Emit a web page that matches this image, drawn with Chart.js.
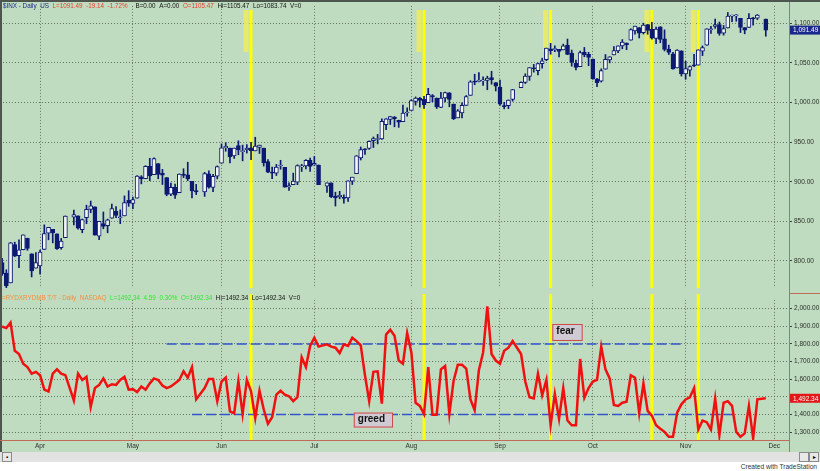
<!DOCTYPE html>
<html>
<head>
<meta charset="utf-8">
<script src="https://cdn.jsdelivr.net/npm/chart.js@4.4.0/dist/chart.umd.min.js"></script>
<style>
  body { margin: 0; background: #fff; }
  #wrap { position: relative; width: 820px; height: 471px; overflow: hidden; font-family: Arial, sans-serif; }
  #panel { position: absolute; left: 0; top: 0; width: 820px; height: 452px; background: #c0dcc0; }
  canvas { position: absolute; left: 0; }
  .hdr { position: absolute; font-size: 6.3px; line-height: 8px; white-space: nowrap; }
  .hdr span { margin-right: 3.6px; }
  .line { position: absolute; background: #c46a58; }
  .btn { position: absolute; top: 452px; width: 8px; height: 8px; border: 1px solid #8a8a8a; background: #e8e8e8;
         font-size: 6px; line-height: 8px; text-align: center; color: #000; }
</style>
</head>
<body>
<div id="wrap">
  <div id="panel"></div>
  <div style="position:absolute;left:0;top:452px;width:820px;height:10px;background:#e2e2e2"></div>

  <canvas id="priceChart" width="820" height="294" style="top:0"></canvas>
  <canvas id="ratioChart" width="820" height="158" style="top:294px"></canvas>

  <!-- frame -->
  <div style="position:absolute;left:0;top:0;width:820px;height:2px;background:#4d564d"></div>
  <div style="position:absolute;left:0;top:0;width:2px;height:452px;background:#4d564d"></div>
  <div class="line" style="left:789px;top:2px;width:1px;height:450px"></div>
  <div class="line" style="left:789px;top:293px;width:31px;height:1px"></div>
  <div class="line" style="left:0;top:440px;width:790px;height:1px"></div>

  <!-- top header -->
  <div class="hdr" style="left:3px;top:2px">
    <span style="color:#1c2c8c">$INX - Daily</span><span style="color:#1c2c8c">US</span><span
      style="color:#e8402a">L=1091.49</span><span style="color:#e8402a">-19.14</span><span
      style="color:#e8402a;margin-right:8px">-1.72%</span><span style="color:#111">B=0.00</span><span
      style="color:#111">A=0.00</span><span style="color:#e8402a">O=1105.47</span><span
      style="color:#111">Hi=1105.47</span><span style="color:#111">Lo=1083.74</span><span style="color:#111">V=0</span>
  </div>

  <!-- bottom header -->
  <div class="hdr" style="left:2px;top:294px">
    <span style="color:#f09040">=RYDXRYDMB T/T - Daily</span><span style="color:#f09040">NASDAQ</span><span
      style="color:#2ee82e">L=1492.34</span><span style="color:#2ee82e">4.59</span><span
      style="color:#2ee82e">0.30%</span><span style="color:#2ee82e">O=1492.34</span><span
      style="color:#111">Hi=1492.34</span><span style="color:#111">Lo=1492.34</span><span style="color:#111">V=0</span>
  </div>

  <!-- scroll strip -->
  <div class="btn" style="left:2px">&#9642;</div>
  <div class="btn" style="left:799px"></div>
  <div class="btn" style="left:809px">&#9656;</div>
  <div class="hdr" style="right:3px;top:463px;color:#333;font-size:6.6px">Created with TradeStation</div>
</div>

<script>
// $INX daily candles, one value per trading day from 2009-03-19 to 2009-11-27
const opens = [
  797.9, 784.6, 772.3, 820.6, 806.8, 814.1, 828.7, 809.1, 790.9, 793.6,
  814.5, 835.1, 839.8, 834.1, 816.8, 829.3, 855.3, 856.9, 839.4, 854.5,
  865.2, 868.3, 831.3, 847.3, 844.6, 853.9, 862.8, 854.5, 856.9, 876.6,
  872.7, 879.2, 906.1, 903.8, 919.6, 909.0, 922.9, 910.5, 905.4, 884.2,
  892.8, 886.1, 909.7, 908.6, 900.4, 888.7, 887.0, 909.9, 892.9, 907.0,
  923.3, 942.9, 942.5, 932.5, 945.7, 938.1, 940.4, 942.7, 939.0, 943.4,
  942.5, 925.6, 911.9, 910.9, 919.9, 918.1, 893.5, 896.3, 899.5, 918.8,
  919.9, 927.2, 920.8, 921.2, 894.3, 898.6, 881.9, 881.3, 880.0, 879.6,
  900.8, 910.2, 930.2, 940.6, 942.1, 951.9, 953.4, 954.1, 972.2, 978.6,
  981.5, 977.7, 976.0, 986.8, 990.2, 1001.4, 1005.4, 1004.1, 999.8, 1008.9,
  1005.8, 994.0, 1005.9, 1012.2, 998.2, 980.6, 986.9, 996.4, 1009.1, 1026.6,
  1026.6, 1027.4, 1027.8, 1031.6, 1025.2, 1019.5, 996.1, 996.1, 1003.8, 1018.7,
  1025.4, 1033.0, 1043.9, 1040.2, 1049.0, 1054.0, 1067.9, 1066.6, 1067.1, 1066.4,
  1072.7, 1062.6, 1049.5, 1045.4, 1063.7, 1061.0, 1054.9, 1029.7, 1026.9, 1042.0,
  1053.7, 1060.0, 1065.3, 1071.6, 1075.0, 1078.7, 1090.4, 1094.7, 1088.2, 1098.6,
  1092.4, 1081.0, 1095.6, 1080.4, 1067.5, 1061.5, 1043.7, 1065.4, 1036.2, 1040.9,
  1047.3, 1047.3, 1065.0, 1072.3, 1091.9, 1096.0, 1098.3, 1087.6, 1094.1, 1109.2,
  1109.4, 1106.4, 1094.7, 1094.9, 1105.8, 1106.5, 1105.47
];
const highs = [
  803.2, 788.9, 823.4, 823.7, 826.8, 832.9, 828.7, 809.1, 810.5, 813.6,
  845.6, 842.5, 839.8, 834.1, 828.4, 856.9, 864.3, 856.9, 852.9, 870.4,
  875.6, 868.3, 850.1, 861.8, 852.9, 871.8, 868.8, 864.5, 882.1, 888.7,
  880.5, 907.9, 907.7, 920.3, 929.6, 930.2, 922.9, 915.6, 905.4, 898.4,
  896.9, 910.0, 916.4, 924.6, 900.4, 896.7, 911.8, 913.8, 909.5, 920.0,
  947.8, 949.4, 942.5, 942.5, 951.7, 946.3, 946.9, 949.8, 956.2, 946.3,
  942.5, 928.0, 918.4, 921.9, 927.1, 918.1, 898.7, 910.9, 921.4, 922.0,
  927.9, 930.0, 931.9, 921.2, 898.7, 898.6, 886.8, 887.9, 883.6, 901.1,
  905.8, 933.0, 943.9, 941.9, 951.6, 956.5, 959.8, 979.4, 979.8, 982.5,
  982.4, 977.8, 996.7, 993.2, 1003.6, 1007.1, 1006.6, 1008.0, 1018.0, 1010.1,
  1005.8, 1012.8, 1013.1, 1012.6, 998.2, 991.2, 999.6, 1008.9, 1027.6, 1035.8,
  1037.8, 1032.5, 1033.3, 1039.5, 1025.2, 1028.5, 1000.3, 1003.4, 1016.5, 1026.1,
  1036.3, 1044.1, 1048.2, 1049.7, 1056.0, 1068.8, 1074.8, 1071.5, 1067.3, 1073.8,
  1080.2, 1066.3, 1053.5, 1065.1, 1069.6, 1063.4, 1054.9, 1030.6, 1042.6, 1060.6,
  1058.0, 1070.7, 1071.5, 1079.5, 1075.3, 1093.2, 1096.6, 1094.7, 1100.2, 1098.6,
  1101.4, 1095.2, 1095.8, 1091.8, 1072.5, 1063.3, 1066.8, 1065.4, 1052.2, 1046.4,
  1061.0, 1066.7, 1071.5, 1093.2, 1096.1, 1105.4, 1101.7, 1097.3, 1113.7, 1110.5,
  1111.1, 1106.4, 1094.7, 1112.4, 1107.6, 1111.2, 1105.47
];
const lows = [
  781.8, 766.2, 772.3, 805.5, 791.4, 814.1, 813.4, 779.8, 790.9, 783.3,
  814.5, 826.7, 822.8, 814.5, 814.8, 829.3, 845.4, 840.2, 835.6, 847.0,
  860.9, 832.4, 826.8, 840.6, 835.6, 853.9, 854.7, 847.1, 856.9, 868.9,
  866.1, 879.2, 897.3, 903.8, 901.4, 909.0, 903.7, 896.5, 882.3, 882.5,
  878.9, 886.1, 905.2, 901.4, 879.6, 883.8, 881.5, 891.9, 887.6, 903.6,
  923.3, 938.5, 923.9, 929.3, 934.1, 926.4, 936.2, 927.9, 939.0, 935.7,
  919.7, 911.6, 903.8, 907.9, 915.8, 893.0, 888.9, 896.3, 896.3, 913.0,
  916.2, 912.9, 920.8, 896.4, 886.4, 879.9, 869.3, 878.5, 872.8, 875.3,
  896.5, 910.2, 927.5, 934.4, 940.9, 943.2, 947.8, 953.3, 965.9, 972.3,
  969.4, 968.7, 976.0, 982.9, 990.2, 996.7, 994.3, 992.5, 999.8, 1001.0,
  992.4, 993.4, 1000.8, 994.6, 978.5, 980.6, 980.6, 996.4, 1009.1, 1022.5,
  1026.2, 1021.6, 1016.2, 1023.1, 1014.6, 996.3, 992.0, 992.3, 1001.7, 1018.7,
  1024.0, 1028.0, 1038.4, 1035.0, 1043.4, 1052.9, 1061.0, 1064.3, 1057.5, 1066.4,
  1060.4, 1045.9, 1041.2, 1045.4, 1057.8, 1046.5, 1029.4, 1020.0, 1025.9, 1042.0,
  1050.1, 1060.0, 1063.0, 1067.9, 1066.7, 1078.7, 1086.4, 1081.5, 1086.5, 1086.2,
  1080.1, 1074.3, 1075.5, 1065.2, 1060.6, 1042.2, 1043.7, 1033.4, 1029.4, 1033.4,
  1045.2, 1047.3, 1059.3, 1072.3, 1087.4, 1093.5, 1085.0, 1085.1, 1094.1, 1102.2,
  1102.7, 1088.4, 1086.8, 1094.9, 1097.6, 1104.8, 1083.74
];
const closes = [
  784.0, 768.5, 822.9, 806.1, 813.9, 832.9, 815.9, 787.5, 797.9, 811.1,
  834.4, 842.5, 835.5, 815.6, 825.2, 856.6, 858.7, 841.5, 852.1, 865.3,
  869.6, 832.4, 850.1, 843.6, 851.9, 866.2, 857.5, 855.2, 873.6, 872.8,
  877.5, 907.2, 903.8, 919.5, 907.4, 929.2, 909.2, 908.4, 883.9, 893.1,
  882.9, 909.7, 908.1, 903.5, 888.3, 887.0, 910.3, 893.1, 906.8, 919.1,
  942.9, 944.7, 931.8, 942.5, 940.1, 939.1, 942.4, 939.2, 944.9, 946.2,
  923.7, 912.0, 910.7, 918.4, 921.2, 893.0, 895.1, 900.9, 920.3, 918.9,
  927.2, 919.3, 923.3, 896.4, 898.7, 881.0, 879.6, 882.7, 879.1, 901.1,
  905.8, 932.7, 940.7, 940.4, 951.1, 954.6, 954.1, 976.3, 979.3, 982.2,
  979.6, 975.2, 986.8, 987.5, 1002.6, 1005.7, 1002.7, 997.1, 1010.5, 1007.1,
  994.4, 1005.8, 1012.7, 1004.1, 979.7, 989.7, 996.5, 1007.4, 1026.1, 1025.6,
  1028.0, 1028.1, 1031.0, 1028.9, 1020.6, 998.0, 994.8, 1003.2, 1016.4, 1025.4,
  1033.4, 1044.1, 1042.7, 1049.3, 1052.6, 1068.8, 1065.5, 1068.3, 1064.7, 1071.7,
  1060.9, 1050.8, 1044.4, 1063.0, 1060.6, 1057.1, 1029.9, 1025.2, 1040.5, 1054.7,
  1057.6, 1065.5, 1071.5, 1076.2, 1073.2, 1092.0, 1096.6, 1087.7, 1097.9, 1091.1,
  1081.4, 1092.9, 1079.6, 1067.0, 1063.4, 1042.6, 1066.1, 1036.2, 1042.9, 1045.4,
  1046.5, 1066.6, 1069.3, 1093.1, 1093.0, 1098.5, 1087.2, 1093.5, 1109.3, 1110.3,
  1109.8, 1094.9, 1091.4, 1106.2, 1105.7, 1110.6, 1091.49
];

// RYDX/RYDMB ratio, same trading days
const ratio = [
  1899, 1890, 1921, 1761, 1743, 1688, 1669, 1632, 1642, 1623,
  1541, 1531, 1632, 1656, 1632, 1623, 1480, 1632, 1596, 1614,
  1443, 1550, 1568, 1605, 1559, 1572, 1568, 1596, 1614, 1541,
  1544, 1528, 1559, 1541, 1577, 1605, 1596, 1565, 1550, 1559,
  1577, 1596, 1645, 1609, 1669, 1486, 1550, 1601, 1601, 1476,
  1587, 1609, 1418, 1407, 1590, 1403, 1596, 1531, 1381, 1535,
  1430, 1348, 1385, 1513, 1535, 1513, 1504, 1476, 1498, 1724,
  1669, 1789, 1835, 1785, 1798, 1785, 1779, 1748, 1798, 1789,
  1835, 1816, 1792, 1623, 1476, 1642, 1645, 1462, 1853, 1880,
  1847, 1706, 1688, 1862, 1752, 1467, 1449, 1403, 1669, 1399,
  1399, 1656, 1675, 1403, 1590, 1682, 1682, 1660, 1486, 1425,
  1651, 1752, 2013, 1743, 1706, 1688, 1761, 1779, 1816, 1743,
  1587, 1498, 1491, 1632, 1509, 1596, 1339, 1517, 1375, 1550,
  1366, 1339, 1339, 1715, 1495, 1550, 1587, 1596, 1785, 1656,
  1605, 1454, 1449, 1467, 1473, 1623, 1609, 1407, 1577, 1421,
  1394, 1339, 1320, 1302, 1274, 1274, 1412, 1458, 1486, 1498,
  1550, 1315, 1366, 1357, 1315, 1491, 1283, 1467, 1476, 1449,
  1302, 1274, 1293, 1449, 1265, 1486, 1492.34
];

const holidays = ["2009-04-10", "2009-05-25", "2009-07-03", "2009-09-07", "2009-11-26"];
const signalDates = ["2009-06-10", "2009-08-06", "2009-09-17", "2009-10-21", "2009-11-05"];
const monthStarts = ["2009-04-01", "2009-05-01", "2009-06-01", "2009-07-01", "2009-08-03",
                     "2009-09-01", "2009-10-01", "2009-11-02", "2009-12-01"];
const monthNames = ["Apr", "May", "Jun", "Jul", "Aug", "Sep", "Oct", "Nov", "Dec"];
const priceTicks = [800, 850, 900, 950, 1000, 1050, 1100];
const ratioTicks = [1300, 1400, 1500, 1600, 1700, 1800, 1900, 2000];

const fearLevel = 1800;
const fearSpan = ["2009-05-13", "2009-10-30"];
const greedLevel = 1400;
const greedSpan = ["2009-05-21", "2009-11-18"];
const noteTexts = ["fear", "greed"];
const noteDates = ["2009-09-23", "2009-07-21"];
const noteValues = [1865, 1369];

// weekday slots: holidays keep an empty slot, chart runs a few days past the last bar
const slotLabels = [];
for (let d = new Date(Date.UTC(2009, 2, 19)); d <= Date.UTC(2009, 11, 4); d.setUTCDate(d.getUTCDate() + 1)) {
  const wd = d.getUTCDay();
  if (wd !== 0 && wd !== 6) slotLabels.push(d.toISOString().slice(0, 10));
}
const tradingSlots = slotLabels.filter(s => !holidays.includes(s)).slice(0, closes.length);

const wickData = slotLabels.map(() => null);
const bodyData = slotLabels.map(() => null);
const bodyFill = slotLabels.map(() => null);
const ratioData = slotLabels.map(() => null);

const NAVY = "#0c1a72";
const HOLLOW = "#f2f5f2";
const GRID = "rgba(70,85,70,0.75)";

tradingSlots.forEach((s, i) => {
  const k = slotLabels.indexOf(s);
  wickData[k] = [lows[i], highs[i]];
  bodyData[k] = [Math.min(opens[i], closes[i]), Math.max(opens[i], closes[i])];
  bodyFill[k] = closes[i] >= opens[i] ? HOLLOW : NAVY;
  ratioData[k] = ratio[i];
});

const fmt = v => v.toLocaleString("en-US", { minimumFractionDigits: 2, maximumFractionDigits: 2 });

function monthTicks(scale) {
  scale.ticks = monthStarts.map(d => ({ value: slotLabels.indexOf(d) }));
}

function signalLines(top, withTabs) {
  return {
    id: "signals",
    beforeDatasetsDraw(chart) {
      const { ctx, chartArea } = chart;
      const x = chart.scales.x;
      ctx.save();
      signalDates.forEach(d => {
        const px = x.getPixelForValue(slotLabels.indexOf(d));
        if (withTabs) {
          ctx.fillStyle = "rgba(236,236,96,0.9)";
          ctx.fillRect(px - 7.5, 10, 5, 42);
        }
        ctx.fillStyle = "#ffff00";
        ctx.fillRect(px - 1.5, top, 3, chartArea.bottom - top);
      });
      ctx.restore();
    }
  };
}

function lastTag(value, fill) {
  return {
    id: "lastTag",
    afterDraw(chart) {
      const { ctx } = chart;
      const y = chart.scales.y.getPixelForValue(value);
      ctx.save();
      ctx.fillStyle = fill;
      ctx.fillRect(790, y - 4.5, 30, 9);
      ctx.fillStyle = "#ffffff";
      ctx.font = "6.5px Arial";
      ctx.textBaseline = "middle";
      ctx.fillText(fmt(value), 793, y + 0.5);
      ctx.restore();
    }
  };
}

const fearGreedNotes = {
  id: "notes",
  afterDatasetsDraw(chart) {
    const { ctx } = chart;
    ctx.save();
    ctx.font = "bold 10px Arial";
    ctx.textBaseline = "middle";
    noteTexts.forEach((t, i) => {
      const cx = chart.scales.x.getPixelForValue(slotLabels.indexOf(noteDates[i]));
      const cy = chart.scales.y.getPixelForValue(noteValues[i]);
      const w = ctx.measureText(t).width + 12;
      const h = i === 0 ? 17 : 15;
      ctx.fillStyle = "#cfcad3";
      ctx.fillRect(cx - w / 2, cy - h / 2, w, h);
      ctx.strokeStyle = "#d04848";
      ctx.lineWidth = 1;
      ctx.strokeRect(cx - w / 2 + 0.5, cy - h / 2 + 0.5, w - 1, h - 1);
      ctx.fillStyle = "#111111";
      ctx.fillText(t, cx - w / 2 + 4, cy - 1);
    });
    ctx.restore();
  }
};

Chart.defaults.font.family = "Arial";

const yAxisBase = {
  position: "right",
  afterFit: s => { s.width = 31; },
  ticks: { font: { size: 6.5 }, color: "#2a2f2a", padding: 2, callback: v => fmt(v) },
  grid: { color: GRID, lineWidth: 1, drawTicks: true, tickLength: 3, tickColor: "#404040", tickBorderDash: [] },
  border: { display: false, dash: [1, 2] }
};

new Chart(document.getElementById("priceChart"), {
  type: "bar",
  data: {
    labels: slotLabels,
    datasets: [
      {
        label: "wick",
        data: wickData,
        backgroundColor: NAVY,
        barThickness: 1,
        grouped: false,
        order: 2
      },
      {
        label: "body",
        data: bodyData,
        backgroundColor: bodyFill,
        borderColor: NAVY,
        borderWidth: 1,
        borderSkipped: false,
        barThickness: 4,
        minBarLength: 1,
        grouped: false,
        order: 1
      }
    ]
  },
  options: {
    responsive: false,
    animation: false,
    layout: { padding: { top: 2, bottom: 1, left: 0, right: 0 } },
    plugins: { legend: { display: false }, tooltip: { enabled: false } },
    scales: {
      x: {
        offset: true,
        afterBuildTicks: monthTicks,
        afterFit: s => { s.height = 0; },
        ticks: { display: false },
        grid: { color: GRID, offset: false, drawTicks: false },
        border: { display: false, dash: [1, 2] }
      },
      y: Object.assign({}, yAxisBase, {
        min: 765.71,
        max: 1122.04,
        afterBuildTicks: s => { s.ticks = priceTicks.map(v => ({ value: v })); }
      })
    }
  },
  plugins: [signalLines(10, true), lastTag(closes[closes.length - 1], "#1a2a8c")]
});

new Chart(document.getElementById("ratioChart"), {
  type: "line",
  data: {
    labels: slotLabels,
    datasets: [
      {
        label: "ratio",
        data: ratioData,
        borderColor: "#f01010",
        borderWidth: 2.5,
        pointRadius: 0,
        spanGaps: true,
        tension: 0,
        order: 0
      },
      {
        label: "fear",
        data: fearSpan.map(d => ({ x: d, y: fearLevel })),
        borderColor: "#3355cc",
        borderWidth: 1.5,
        borderDash: [10, 4],
        pointRadius: 0,
        order: 1
      },
      {
        label: "greed",
        data: greedSpan.map(d => ({ x: d, y: greedLevel })),
        borderColor: "#3355cc",
        borderWidth: 1.5,
        borderDash: [10, 4],
        pointRadius: 0,
        order: 1
      }
    ]
  },
  options: {
    responsive: false,
    animation: false,
    layout: { padding: { top: 2, bottom: 0, left: 0, right: 0 } },
    plugins: { legend: { display: false }, tooltip: { enabled: false } },
    scales: {
      x: {
        offset: true,
        afterBuildTicks: monthTicks,
        afterFit: s => { s.height = 12; },
        ticks: {
          autoSkip: false,
          maxRotation: 0,
          padding: 2,
          font: { size: 6.5 },
          color: "#2a2f2a",
          callback: v => monthNames[monthStarts.indexOf(slotLabels[v])]
        },
        grid: { color: GRID, offset: false, drawTicks: false },
        border: { display: false, dash: [1, 2] }
      },
      y: Object.assign({}, yAxisBase, {
        min: 1255.9,
        max: 2049.6,
        afterBuildTicks: s => { s.ticks = ratioTicks.map(v => ({ value: v })); }
      })
    }
  },
  plugins: [signalLines(0, false), fearGreedNotes, lastTag(ratio[ratio.length - 1], "#e01818")]
});
</script>
</body>
</html>
